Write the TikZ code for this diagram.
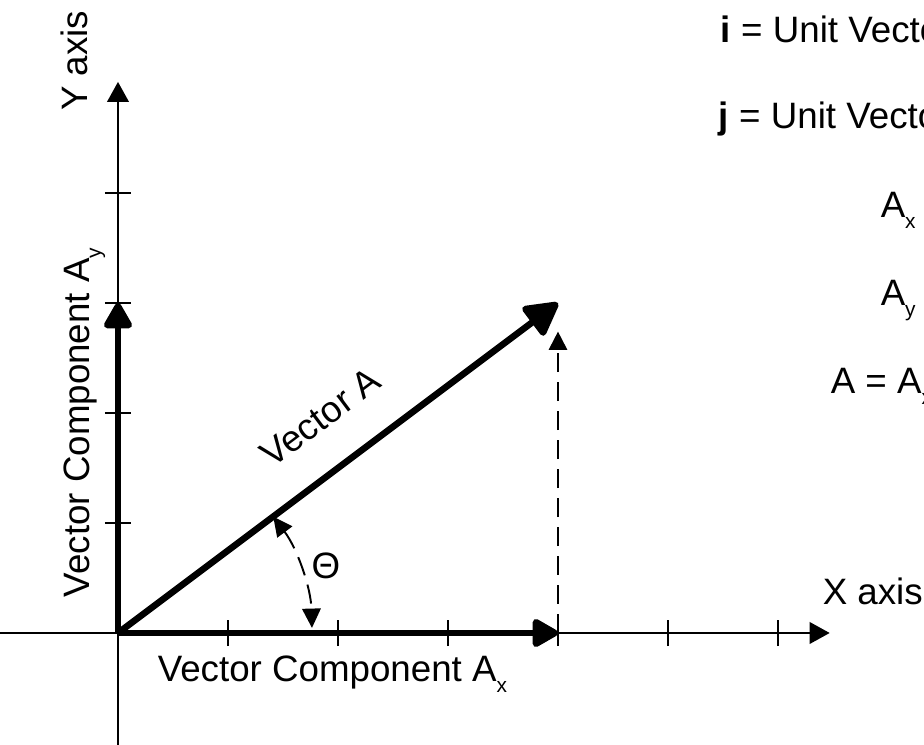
\documentclass[tikz,border=0pt]{standalone}
\usepackage{fontspec}
\setmainfont{Liberation Sans}
\usepackage{tikz}
\usetikzlibrary{arrows.meta,positioning,calc}
\newcommand{\lowsub}[1]{\raisebox{-2.8pt}{\fontsize{5.4}{6}\selectfont #1}}

\begin{document}
\begin{tikzpicture}[x=1cm, y=1cm,
  axis/.style={line width=0.5pt, -{Triangle[length=5.2pt,width=5.6pt]}},
  vec/.style={line width=1.7pt, -{Triangle[length=7.5pt,width=8pt,round]}},
  helper/.style={line width=0.5pt, dash pattern=on 5pt off 2.5pt},
  tickmark/.style={line width=0.5pt},
  lbl/.style={inner sep=0pt, font=\fontsize{9.5}{11}\selectfont}]
  \useasboundingbox (-1.0727,-1.0182) rectangle (7.3273,5.7545);
  \clip (-1.0727,-1.0182) rectangle (7.3273,5.7545);

  % axes
  \coordinate (O) at (0,0);
  \coordinate (xstart) at (-1.1,0);
  \coordinate (xend) at (6.47,0);
  \coordinate (ystart) at (0,-1.1);
  \coordinate (yend) at (0,5.01);
  \foreach \k in {1,...,6}
    \draw[tickmark] (\k,-0.12) -- (\k,0.12);
  \foreach \k in {1,...,4}
    \draw[tickmark] (-0.12,\k) -- (0.12,\k);
  \draw[axis] (xstart) -- (xend);
  \draw[axis] (ystart) -- (yend);

  % vector and its components
  \coordinate (Ax) at (4,0);
  \coordinate (Ay) at (0,3);
  \coordinate (A) at (4,3);
  \coordinate (Atop) at (4,2.74);
  \draw[helper, -{Triangle[length=4.7pt,width=4.7pt]}] (Ax) -- (Atop);
  \draw[vec] (O) -- (Ax);
  \draw[vec] (O) -- (Ay);
  \draw[vec, -{Triangle[length=9.5pt,width=10pt,round]}] (O) -- (A);

  % angle
  \coordinate (arcA) at (36.87:1.764);
  \draw[helper, {Triangle[length=5pt,width=4.8pt]}-{Triangle[length=5pt,width=4.8pt]}]
    (arcA) arc[start angle=36.87, end angle=1.5, radius=1.764];
  \node[lbl] (theta) at (1.891,0.609) {Θ};

  % labels
  \path (O) -- (A) node[pos=0.53, sloped, above=0.34cm, lbl] (vlbl) {Vector A};
  \node[lbl, anchor=base west] (axlbl) at (0.355,-0.445) {Vector Component A\lowsub{x}};
  \node[lbl, rotate=90, anchor=base west] (aylbl) at (-0.255,0.318) {Vector Component A\lowsub{y}};
  \node[lbl, anchor=base west] (xlbl) at (6.4,0.255) {X axis};
  \node[lbl, rotate=90, anchor=base west] (ylbl) at (-0.28,4.74) {Y axis};

  % legend on the right
  \node[lbl, anchor=base west] (ilbl) at (5.473,5.364) {\textbf{i} = Unit Vecto};
  \node[lbl, anchor=base west] (jlbl) at (5.455,4.59) {\textbf{j} = Unit Vecto};
  \node[lbl, anchor=base west] (axeq) at (6.927,3.773) {A\lowsub{x}};
  \node[lbl, anchor=base west] (ayeq) at (6.927,2.98) {A\lowsub{y}};
  \node[lbl, anchor=base west] (aeq) at (6.473,2.18) {A = A\lowsub{x}};
\end{tikzpicture}
\end{document}
